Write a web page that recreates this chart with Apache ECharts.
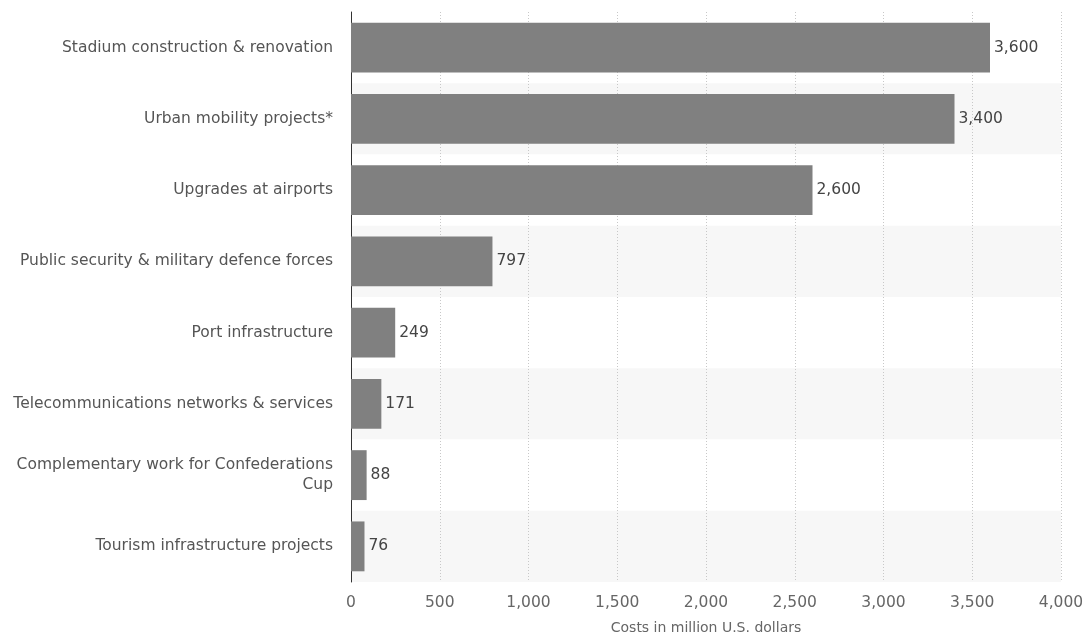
<!DOCTYPE html>
<html>
<head>
<meta charset="utf-8">
<script src="https://cdn.jsdelivr.net/npm/echarts@6/dist/echarts.min.js"></script>
<style>
  html, body { margin: 0; padding: 0; background: #ffffff; }
  #chart { width: 1087px; height: 635px; }
</style>
</head>
<body>
<div id="chart"></div>
<script>
// Infrastructure cost breakdown, in million U.S. dollars
const categories = [
  'Stadium construction & renovation',
  'Urban mobility projects*',
  'Upgrades at airports',
  'Public security & military defence forces',
  'Port infrastructure',
  'Telecommunications networks & services',
  'Complementary work for Confederations\nCup',
  'Tourism infrastructure projects'
];
const costs = [3600, 3400, 2600, 797, 249, 171, 88, 76];
const xTicks = [0, 500, 1000, 1500, 2000, 2500, 3000, 3500, 4000];
const xAxisTitle = 'Costs in million U.S. dollars';

const fontFamily = '"DejaVu Sans", Verdana, sans-serif';
const fmt = v => Number(v).toLocaleString('en-US');

const chart = echarts.init(document.getElementById('chart'), null, { renderer: 'canvas' });
chart.setOption({
  animation: false,
  grid: {
    left: 351, right: 26, top: 12, bottom: 53,
    containLabel: false,
    outerBoundsMode: 'none'
  },
  xAxis: {
    type: 'value',
    min: xTicks[0],
    max: xTicks[xTicks.length - 1],
    interval: 500,
    name: xAxisTitle,
    nameLocation: 'middle',
    nameGap: 39,
    nameTextStyle: { color: '#666', fontSize: 14, fontFamily },
    axisLine: { show: false },
    axisTick: { show: false },
    axisLabel: { color: '#666', fontSize: 15.5, fontFamily, margin: 13, formatter: fmt },
    splitLine: { show: true, lineStyle: { color: '#c8c8c8', type: [1, 2], width: 1 } }
  },
  yAxis: {
    type: 'category',
    inverse: true,
    data: categories,
    axisLine: { show: true, lineStyle: { color: '#333', width: 1 } },
    axisTick: { show: false },
    axisLabel: { color: '#555', fontSize: 15.5, fontFamily, margin: 18, lineHeight: 20, align: 'right' },
    splitArea: { show: true, areaStyle: { color: ['#ffffff', '#f7f7f7'] } },
    splitLine: { show: false }
  },
  series: [{
    type: 'bar',
    data: costs,
    barWidth: '70%',
    itemStyle: { color: '#808080' },
    label: {
      show: true,
      position: 'right',
      distance: 4,
      color: '#444',
      fontSize: 15.5,
      fontFamily,
      formatter: p => fmt(p.value)
    }
  }]
});
</script>
</body>
</html>
